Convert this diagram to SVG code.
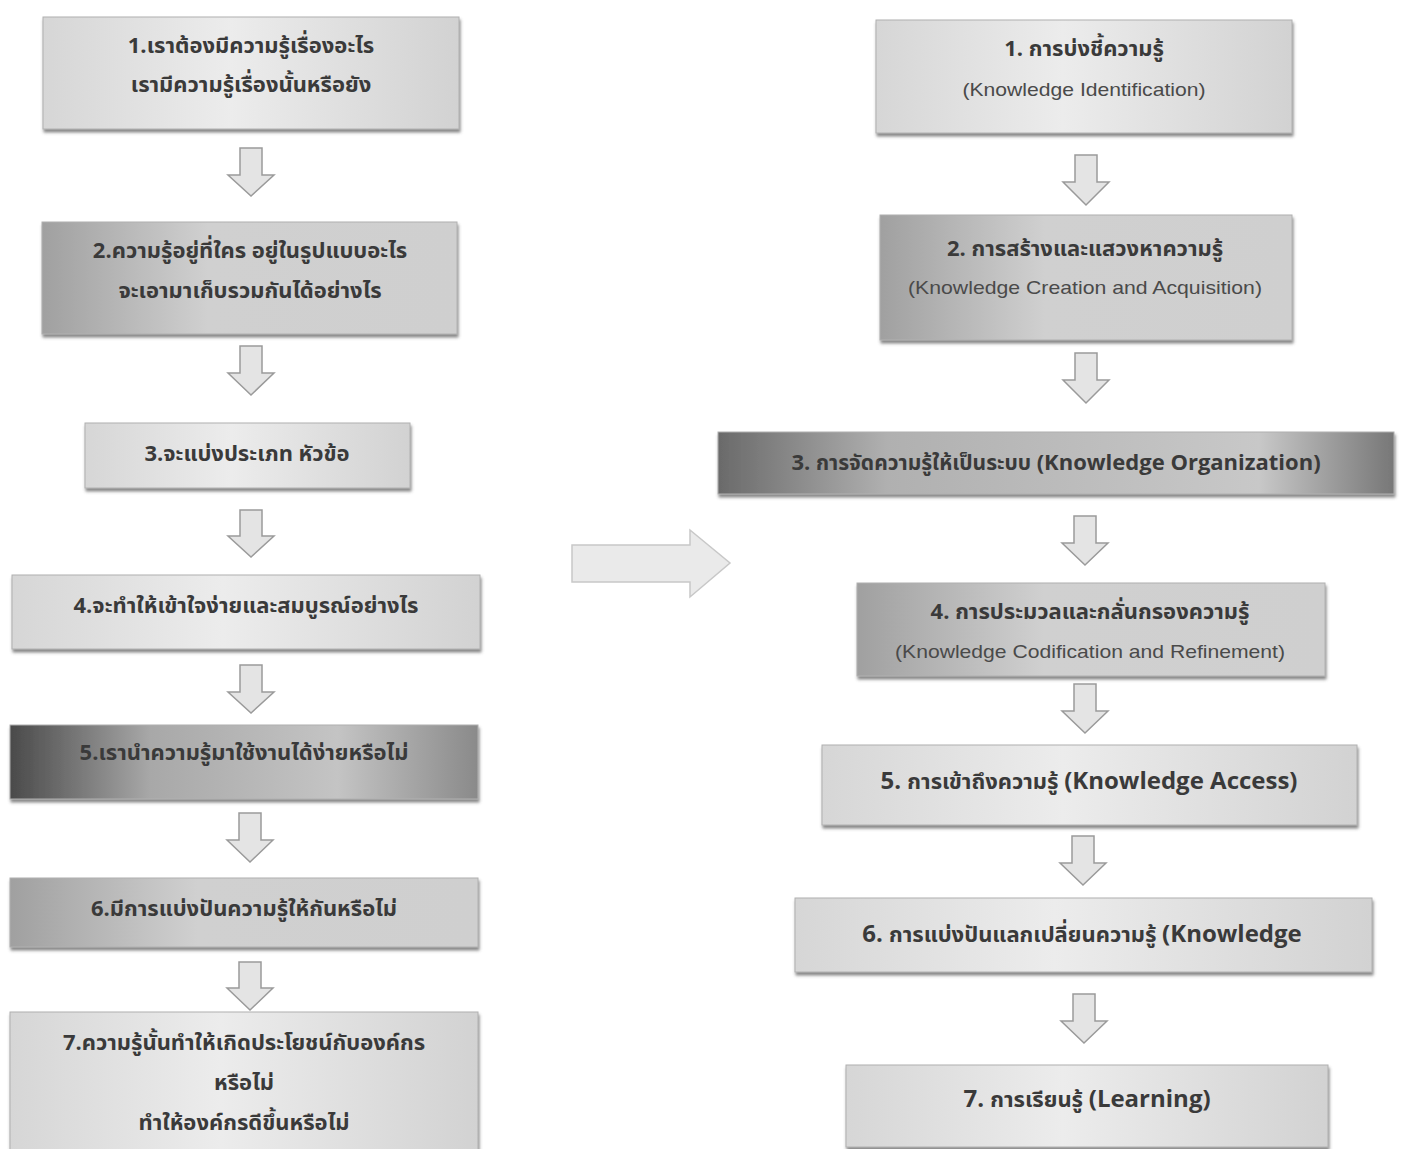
<svg xmlns="http://www.w3.org/2000/svg" width="1402" height="1149" viewBox="0 0 1402 1149">
<style>
.th{font-family:"Noto Sans Thai","Noto Sans","DejaVu Sans",sans-serif;font-weight:bold;fill:#3a3a3a;text-anchor:middle}
.en{font-family:"Liberation Sans",Arial,sans-serif;fill:#4a4a4a;text-anchor:middle}
.enb{font-family:"Open Sans","Liberation Sans",sans-serif;font-weight:bold;fill:#3a3a3a}
.box{stroke:#b0b0b0;stroke-width:1}
.arr{fill:#e4e4e4;stroke:#9a9a9a;stroke-width:1.5}
</style>
<defs>
<linearGradient id="gLight" x1="0" y1="0" x2="1" y2="0">
<stop offset="0" stop-color="#d6d6d6"/><stop offset="0.45" stop-color="#ececec"/><stop offset="1" stop-color="#d2d2d2"/>
</linearGradient>
<linearGradient id="gMid" x1="0" y1="0" x2="1" y2="0">
<stop offset="0" stop-color="#a0a0a0"/><stop offset="0.4" stop-color="#d0d0d0"/><stop offset="1" stop-color="#cfcfcf"/>
</linearGradient>
<linearGradient id="gDark" x1="0" y1="0" x2="1" y2="0">
<stop offset="0" stop-color="#4a4a4a"/><stop offset="0.3" stop-color="#a8a8a8"/><stop offset="0.7" stop-color="#c4c4c4"/><stop offset="1" stop-color="#8a8a8a"/>
</linearGradient>
<linearGradient id="gDark3" x1="0" y1="0" x2="1" y2="0">
<stop offset="0" stop-color="#6a6a6a"/><stop offset="0.25" stop-color="#b0b0b0"/><stop offset="0.8" stop-color="#c8c8c8"/><stop offset="1" stop-color="#777"/>
</linearGradient>
<filter id="sh" x="-5%" y="-10%" width="110%" height="130%">
<feDropShadow dx="1" dy="3" stdDeviation="1.5" flood-color="#555" flood-opacity="0.7"/>
</filter>
</defs>
<rect width="1402" height="1149" fill="#ffffff"/>

<g id="connectors">
<path class="arr" d="M240,148 H262 V175 H274 L251,196 L228,175 H240 Z"/>
<path class="arr" d="M240,346 H262 V373 H274 L251,395 L228,373 H240 Z"/>
<path class="arr" d="M240,510 H262 V536 H274 L251,557 L228,536 H240 Z"/>
<path class="arr" d="M240,665 H262 V692 H274 L251,713 L228,692 H240 Z"/>
<path class="arr" d="M239,813 H261 V840 H273 L250,862 L227,840 H239 Z"/>
<path class="arr" d="M239,962 H261 V988 H273 L250,1010 L227,988 H239 Z"/>

<path class="arr" d="M1075,155 H1097 V182 H1109 L1086,205 L1063,182 H1075 Z"/>
<path class="arr" d="M1075,353 H1097 V380 H1109 L1086,403 L1063,380 H1075 Z"/>
<path class="arr" d="M1074,516 H1096 V543 H1108 L1085,565 L1062,543 H1074 Z"/>
<path class="arr" d="M1074,684 H1096 V711 H1108 L1085,733 L1062,711 H1074 Z"/>
<path class="arr" d="M1072,836 H1094 V863 H1106 L1083,885 L1060,863 H1072 Z"/>
<path class="arr" d="M1073,994 H1095 V1021 H1107 L1084,1043 L1061,1021 H1073 Z"/>

<path d="M572,545 H690 V530 L730,563 L690,597 V582 H572 Z" fill="#eaeaea" stroke="#c8c8c8" stroke-width="1.5"/>
</g>

<g id="L1"><rect class="box" x="43" y="17" width="416" height="112" fill="url(#gLight)" filter="url(#sh)"/>
<text class="th" x="251" y="53" font-size="22">1.เราต้องมีความรู้เรื่องอะไร</text>
<text class="th" x="251" y="92" font-size="22">เรามีความรู้เรื่องนั้นหรือยัง</text></g>

<g id="L2"><rect class="box" x="42" y="222" width="415" height="112" fill="url(#gMid)" filter="url(#sh)"/>
<text class="th" x="250" y="258" font-size="22">2.ความรู้อยู่ที่ใคร อยู่ในรูปแบบอะไร</text>
<text class="th" x="250" y="298" font-size="22">จะเอามาเก็บรวมกันได้อย่างไร</text></g>

<g id="L3"><rect class="box" x="85" y="423" width="325" height="65" fill="url(#gLight)" filter="url(#sh)"/>
<text class="th" x="247" y="461" font-size="22">3.จะแบ่งประเภท หัวข้อ</text></g>

<g id="L4"><rect class="box" x="12" y="575" width="468" height="74" fill="url(#gLight)" filter="url(#sh)"/>
<text class="th" x="246" y="613" font-size="22">4.จะทำให้เข้าใจง่ายและสมบูรณ์อย่างไร</text></g>

<g id="L5"><rect class="box" x="10" y="725" width="468" height="74" fill="url(#gDark)" filter="url(#sh)"/>
<text class="th" x="244" y="760" font-size="22">5.เรานำความรู้มาใช้งานได้ง่ายหรือไม่</text></g>

<g id="L6"><rect class="box" x="10" y="878" width="468" height="69" fill="url(#gMid)" filter="url(#sh)"/>
<text class="th" x="244" y="916" font-size="22">6.มีการแบ่งปันความรู้ให้กันหรือไม่</text></g>

<g id="L7"><rect class="box" x="10" y="1012" width="468" height="145" fill="url(#gLight)" filter="url(#sh)"/>
<text class="th" x="244" y="1050" font-size="22">7.ความรู้นั้นทำให้เกิดประโยชน์กับองค์กร</text>
<text class="th" x="244" y="1090" font-size="22">หรือไม่</text>
<text class="th" x="244" y="1130" font-size="22">ทำให้องค์กรดีขึ้นหรือไม่</text></g>

<g id="R1"><rect class="box" x="876" y="20" width="416" height="113" fill="url(#gLight)" filter="url(#sh)"/>
<text class="th" x="1084" y="56" font-size="22">1. การบ่งชี้ความรู้</text>
<text class="en" x="1084" y="96" font-size="19" textLength="243" lengthAdjust="spacingAndGlyphs">(Knowledge Identification)</text></g>

<g id="R2"><rect class="box" x="880" y="215" width="412" height="125" fill="url(#gMid)" filter="url(#sh)"/>
<text class="th" x="1085" y="256" font-size="22">2. การสร้างและแสวงหาความรู้</text>
<text class="en" x="1085" y="294" font-size="19" textLength="354" lengthAdjust="spacingAndGlyphs">(Knowledge Creation and Acquisition)</text></g>

<g id="R3"><rect class="box" x="718" y="432" width="676" height="62" fill="url(#gDark3)" filter="url(#sh)"/>
<text x="1056" y="470" text-anchor="middle"><tspan class="enb" font-size="22">3. </tspan><tspan class="th" font-size="21" style="text-anchor:start">การจัดความรู้ให้เป็นระบบ </tspan><tspan class="enb" font-size="22">(Knowledge Organization)</tspan></text></g>

<g id="R4"><rect class="box" x="857" y="583" width="468" height="93" fill="url(#gMid)" filter="url(#sh)"/>
<text class="th" x="1090" y="619" font-size="22">4. การประมวลและกลั่นกรองความรู้</text>
<text class="en" x="1090" y="658" font-size="19" textLength="390" lengthAdjust="spacingAndGlyphs">(Knowledge Codification and Refinement)</text></g>

<g id="R5"><rect class="box" x="822" y="745" width="535" height="80" fill="url(#gLight)" filter="url(#sh)"/>
<text x="1089" y="789" text-anchor="middle"><tspan class="enb" font-size="24">5. </tspan><tspan class="th" font-size="22" style="text-anchor:start">การเข้าถึงความรู้ </tspan><tspan class="enb" font-size="24">(Knowledge Access)</tspan></text></g>

<g id="R6"><rect class="box" x="795" y="898" width="577" height="74" fill="url(#gLight)" filter="url(#sh)"/>
<text x="1082" y="942" text-anchor="middle"><tspan class="enb" font-size="24">6. </tspan><tspan class="th" font-size="22" style="text-anchor:start">การแบ่งปันแลกเปลี่ยนความรู้ </tspan><tspan class="enb" font-size="24">(Knowledge</tspan></text></g>

<g id="R7"><rect class="box" x="846" y="1065" width="482" height="82" fill="url(#gLight)" filter="url(#sh)"/>
<text x="1087" y="1107" text-anchor="middle"><tspan class="enb" font-size="24">7. </tspan><tspan class="th" font-size="22" style="text-anchor:start">การเรียนรู้ </tspan><tspan class="enb" font-size="24">(Learning)</tspan></text></g>
</svg>
